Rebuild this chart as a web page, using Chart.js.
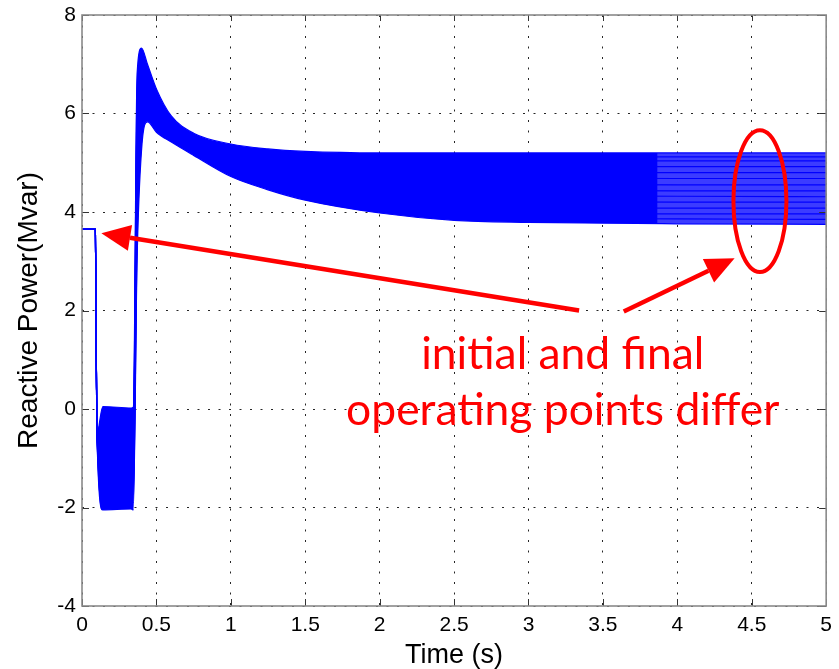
<!DOCTYPE html>
<html>
<head>
<meta charset="utf-8">
<title>Reactive Power</title>
<script src="https://cdn.jsdelivr.net/npm/chart.js@4"></script>
<style>
  html, body { margin: 0; padding: 0; background: #fff; }
  #wrap { width: 839px; height: 669px; position: relative; }
</style>
</head>
<body>
<div id="wrap"><canvas id="qchart"></canvas></div>
<script>
// sample instants (s) shared by every simulated run
const TIME = [0, 0.09, 0.1, 0.14, 0.33, 0.345, 0.37, 0.40, 0.44, 0.5, 0.6, 0.75, 1.0, 1.25, 1.5, 2.0, 2.5, 3.0, 4.0, 5.0];

// reactive power (Mvar) of each run, top of the bundle first
const RUN_01 = [3.65, 3.65, -0.5,  0.05,  0.02,  0.04, 6.80, 7.33, 7.00, 6.50, 5.95, 5.60, 5.38, 5.28, 5.23, 5.20, 5.20, 5.20, 5.20, 5.20];
const RUN_02 = [3.65, 3.65, -0.5, -0.12, -0.10, -0.11, 6.50, 7.15, 6.90, 6.42, 5.90, 5.57, 5.33, 5.22, 5.16, 5.13, 5.12, 5.12, 5.12, 5.12];
const RUN_03 = [3.65, 3.65, -0.5, -0.27, -0.25, -0.28, 6.20, 7.02, 6.83, 6.37, 5.88, 5.54, 5.28, 5.16, 5.09, 5.05, 5.04, 5.04, 5.04, 5.04];
const RUN_04 = [3.65, 3.65, -0.5, -0.46, -0.43, -0.45, 5.95, 6.86, 6.73, 6.30, 5.83, 5.50, 5.23, 5.09, 5.01, 4.95, 4.93, 4.92, 4.92, 4.92];
const RUN_05 = [3.65, 3.65, -0.5, -0.60, -0.62, -0.60, 5.60, 6.70, 6.64, 6.22, 5.79, 5.46, 5.18, 5.02, 4.93, 4.84, 4.81, 4.80, 4.80, 4.80];
const RUN_06 = [3.65, 3.65, -0.5, -0.77, -0.75, -0.78, 5.35, 6.55, 6.56, 6.16, 5.75, 5.43, 5.13, 4.96, 4.85, 4.74, 4.70, 4.69, 4.68, 4.68];
const RUN_07 = [3.65, 3.65, -0.5, -0.93, -0.90, -0.92, 5.00, 6.38, 6.46, 6.09, 5.71, 5.39, 5.08, 4.90, 4.77, 4.64, 4.58, 4.56, 4.55, 4.55];
const RUN_08 = [3.65, 3.65, -0.5, -1.07, -1.10, -1.09, 4.75, 6.20, 6.37, 6.03, 5.66, 5.36, 5.02, 4.83, 4.70, 4.54, 4.46, 4.44, 4.43, 4.43];
const RUN_09 = [3.65, 3.65, -0.5, -1.25, -1.22, -1.24, 4.50, 6.05, 6.28, 5.96, 5.62, 5.32, 4.97, 4.77, 4.62, 4.45, 4.36, 4.33, 4.32, 4.31];
const RUN_10 = [3.65, 3.65, -0.5, -1.40, -1.42, -1.41, 4.20, 5.90, 6.19, 5.89, 5.58, 5.29, 4.92, 4.71, 4.55, 4.36, 4.25, 4.21, 4.20, 4.20];
const RUN_11 = [3.65, 3.65, -0.5, -1.56, -1.55, -1.57, 3.90, 5.72, 6.10, 5.82, 5.54, 5.25, 4.87, 4.64, 4.47, 4.26, 4.14, 4.10, 4.08, 4.08];
const RUN_12 = [3.65, 3.65, -0.5, -1.72, -1.70, -1.73, 3.60, 5.58, 6.01, 5.76, 5.50, 5.22, 4.82, 4.58, 4.39, 4.17, 4.03, 3.98, 3.96, 3.96];
const RUN_13 = [3.65, 3.65, -0.5, -1.89, -1.87, -1.90, 3.30, 5.42, 5.92, 5.69, 5.46, 5.18, 4.77, 4.51, 4.32, 4.07, 3.93, 3.88, 3.86, 3.85];
const RUN_14 = [3.65, 3.65, -0.5, -2.05, -2.03, -2.05, 3.00, 5.25, 5.83, 5.62, 5.42, 5.15, 4.72, 4.45, 4.24, 3.98, 3.83, 3.79, 3.76, 3.75];

const RUNS = [RUN_01, RUN_02, RUN_03, RUN_04, RUN_05, RUN_06, RUN_07,
              RUN_08, RUN_09, RUN_10, RUN_11, RUN_12, RUN_13, RUN_14];

const X_RANGE = [0, 5];
const Y_RANGE = [-4, 8];
const X_STEP = 0.5;
const Y_STEP = 2;

const NOTE_LINES = ['initial and final', 'operating points differ'];

// callout geometry, in axis units
const callout = {
  text: { x: 3.23, y: [0.81, -0.32], width: 433 },
  arrows: [
    { from: [3.34, 2.00], to: [0.13, 3.57] },
    { from: [3.64, 1.98], to: [4.385, 3.06] }
  ],
  ring: { x: 4.555, y: 4.22, rx: 0.178, ry: 1.44 }
};

const BLUE = '#0000ff';
const RED = '#ff0000';
const CORE_END = 3.86;   // dense part of the band stops here
const AXIS_FONT = "'Liberation Sans', Arial, sans-serif";

function bandFill(c) {
  const chart = c.chart;
  const a = chart.chartArea;
  if (!a || !chart.scales.x) return BLUE;
  const g = chart.ctx.createLinearGradient(a.left, 0, a.right, 0);
  const f = (chart.scales.x.getPixelForValue(CORE_END) - a.left) / (a.right - a.left);
  g.addColorStop(0, BLUE);
  g.addColorStop(f, BLUE);
  g.addColorStop(Math.min(1, f + 0.002), '#3c3cff');
  g.addColorStop(1, '#3c3cff');
  return g;
}

const datasets = RUNS.map((run, i) => ({
  data: TIME.map((t, j) => ({ x: t, y: run[j] })),
  borderColor: BLUE,
  borderWidth: 1.2,
  pointRadius: 0,
  cubicInterpolationMode: 'monotone',
  fill: i === 0 ? RUNS.length - 1 : false,
  backgroundColor: i === 0 ? bandFill : 'transparent'
}));

// box around the plot plus short inward ticks, matlab style
const frame = {
  id: 'frame',
  afterDatasetsDraw(chart) {
    const { ctx, chartArea: a, scales: { x, y } } = chart;
    ctx.save();
    ctx.strokeStyle = '#333';
    ctx.lineWidth = 1;
    ctx.beginPath();
    x.ticks.forEach(t => {
      const px = Math.round(x.getPixelForValue(t.value)) + 0.5;
      ctx.moveTo(px, a.bottom); ctx.lineTo(px, a.bottom - 7);
      ctx.moveTo(px, a.top); ctx.lineTo(px, a.top + 6);
    });
    y.ticks.forEach(t => {
      const py = Math.round(y.getPixelForValue(t.value)) + 0.5;
      ctx.moveTo(a.left, py); ctx.lineTo(a.left + 7, py);
      ctx.moveTo(a.right, py); ctx.lineTo(a.right - 7, py);
    });
    ctx.stroke();
    ctx.strokeStyle = '#8a8a8a';
    ctx.lineWidth = 1.6;
    ctx.strokeRect(a.left, a.top, a.right - a.left, a.bottom - a.top);
    ctx.restore();
  }
};

function drawArrow(ctx, x0, y0, x1, y1) {
  const ang = Math.atan2(y1 - y0, x1 - x0);
  const headLen = 29, headHalf = 13;
  const bx = x1 - headLen * Math.cos(ang), by = y1 - headLen * Math.sin(ang);
  ctx.beginPath();
  ctx.moveTo(x0, y0);
  ctx.lineTo(bx, by);
  ctx.stroke();
  ctx.beginPath();
  ctx.moveTo(x1, y1);
  ctx.lineTo(bx + headHalf * Math.sin(ang), by - headHalf * Math.cos(ang));
  ctx.lineTo(bx - headHalf * Math.sin(ang), by + headHalf * Math.cos(ang));
  ctx.closePath();
  ctx.fill();
}

const note = {
  id: 'note',
  afterDraw(chart) {
    const { ctx, scales: { x, y } } = chart;
    ctx.save();
    ctx.strokeStyle = RED;
    ctx.fillStyle = RED;
    ctx.lineWidth = 4.5;
    ctx.lineCap = 'butt';
    callout.arrows.forEach(ar => {
      drawArrow(ctx,
        x.getPixelForValue(ar.from[0]), y.getPixelForValue(ar.from[1]),
        x.getPixelForValue(ar.to[0]), y.getPixelForValue(ar.to[1]));
    });

    const r = callout.ring;
    const cx = x.getPixelForValue(r.x), cy = y.getPixelForValue(r.y);
    const rx = x.getPixelForValue(r.x + r.rx) - cx;
    const ry = cy - y.getPixelForValue(r.y + r.ry);
    ctx.lineWidth = 4;
    ctx.beginPath();
    ctx.ellipse(cx, cy, rx, ry, 0, 0, Math.PI * 2);
    ctx.stroke();

    // size the caption so the long line spans its box
    const face = "Lato, 'Open Sans', sans-serif";
    ctx.font = '40px ' + face;
    const size = 40 * callout.text.width / ctx.measureText(NOTE_LINES[1]).width;
    ctx.font = size.toFixed(1) + 'px ' + face;
    ctx.textAlign = 'center';
    ctx.textBaseline = 'alphabetic';
    const tx = x.getPixelForValue(callout.text.x);
    NOTE_LINES.forEach((line, i) => {
      ctx.fillText(line, tx, y.getPixelForValue(callout.text.y[i]));
    });
    ctx.restore();
  }
};

new Chart(document.getElementById('qchart'), {
  type: 'line',
  data: { datasets },
  options: {
    responsive: true,
    maintainAspectRatio: false,
    animation: false,
    events: [],
    layout: { padding: { left: 0, top: 15, right: 11, bottom: 0 } },
    plugins: {
      legend: { display: false },
      tooltip: { enabled: false },
      filler: { drawTime: 'beforeDatasetsDraw' }
    },
    scales: {
      x: {
        type: 'linear',
        min: X_RANGE[0],
        max: X_RANGE[1],
        afterFit: s => { s.height = 63; },
        grid: { color: '#262626', lineWidth: 1, drawTicks: false },
        border: { display: false, dash: [2, 8.5] },
        ticks: {
          stepSize: X_STEP,
          padding: 7,
          color: '#000',
          font: { family: AXIS_FONT, size: 21 },
          maxRotation: 0,
          autoSkip: false,
          callback: v => String(Math.round(v * 10) / 10)
        },
        title: {
          display: true,
          text: 'Time (s)',
          color: '#000',
          font: { family: AXIS_FONT, size: 27, lineHeight: 1 },
          padding: { top: 0, bottom: 0 }
        }
      },
      y: {
        type: 'linear',
        min: Y_RANGE[0],
        max: Y_RANGE[1],
        afterFit: s => { s.width = 82; },
        grid: { color: '#262626', lineWidth: 1, drawTicks: false },
        border: { display: false, dash: [2, 8.5] },
        ticks: {
          stepSize: Y_STEP,
          padding: 6,
          color: '#000',
          // short line height keeps the top label from pushing the plot down
          font: { family: AXIS_FONT, size: 21, lineHeight: 0.8 }
        },
        title: {
          display: true,
          text: 'Reactive Power(Mvar)',
          color: '#000',
          font: { family: AXIS_FONT, size: 28, lineHeight: 1.2 },
          padding: { top: 12, bottom: 0 }
        }
      }
    }
  },
  plugins: [frame, note]
});
</script>
</body>
</html>
